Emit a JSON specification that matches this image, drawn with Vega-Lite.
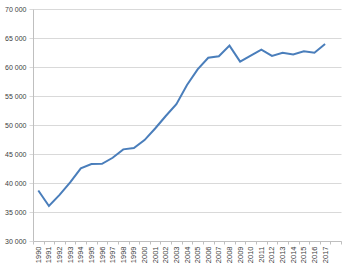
{
  "$schema": "https://vega.github.io/schema/vega-lite/v6.json",
  "autosize": {"type": "none"},
  "width": 308,
  "height": 232,
  "padding": {"left": 33, "top": 9, "right": 9, "bottom": 26},
  "background": "white",
  "config": {
    "view": {"stroke": null},
    "axis": {"labelFont": "Liberation Sans", "labelColor": "#404040", "domainColor": "#bfbfbf", "tickColor": "#bfbfbf", "gridColor": "#d9d9d9"}
  },
  "data": {
    "values": [
      {"year": 1990, "value": 38700},
      {"year": 1991, "value": 36030},
      {"year": 1992, "value": 37950},
      {"year": 1993, "value": 40100},
      {"year": 1994, "value": 42530},
      {"year": 1995, "value": 43280},
      {"year": 1996, "value": 43300},
      {"year": 1997, "value": 44350},
      {"year": 1998, "value": 45800},
      {"year": 1999, "value": 46030},
      {"year": 2000, "value": 47400},
      {"year": 2001, "value": 49400},
      {"year": 2002, "value": 51550},
      {"year": 2003, "value": 53600},
      {"year": 2004, "value": 56900},
      {"year": 2005, "value": 59600},
      {"year": 2006, "value": 61600},
      {"year": 2007, "value": 61840},
      {"year": 2008, "value": 63680},
      {"year": 2009, "value": 60920},
      {"year": 2010, "value": 61950},
      {"year": 2011, "value": 62990},
      {"year": 2012, "value": 61900},
      {"year": 2013, "value": 62450},
      {"year": 2014, "value": 62150},
      {"year": 2015, "value": 62700},
      {"year": 2016, "value": 62450},
      {"year": 2017, "value": 63970}
    ]
  },
  "mark": {"type": "line", "color": "#4a7ebb", "strokeWidth": 2},
  "encoding": {
    "x": {
      "field": "year",
      "type": "ordinal",
      "bandPosition": 0.5,
      "scale": {"type": "band", "paddingInner": 0, "paddingOuter": 0,
        "domain": [1990,1991,1992,1993,1994,1995,1996,1997,1998,1999,2000,2001,2002,2003,2004,2005,2006,2007,2008,2009,2010,2011,2012,2013,2014,2015,2016,2017,2018]},
      "axis": {
        "title": null,
        "labelAngle": -90,
        "labelFontSize": 7.5,
        "tickBand": "extent",
        "tickSize": 3,
        "labelPadding": 2,
        "labelExpr": "datum.value == 2018 ? '' : datum.label",
        "grid": false
      }
    },
    "y": {
      "field": "value",
      "type": "quantitative",
      "scale": {"domain": [30000, 70000], "nice": false, "zero": false},
      "axis": {
        "title": null,
        "values": [30000, 35000, 40000, 45000, 50000, 55000, 60000, 65000, 70000],
        "labelExpr": "replace(format(datum.value, ','), ',', ' ')",
        "labelFontSize": 7,
        "tickSize": 4,
        "labelPadding": 3,
        "grid": true,
        "tickColor": "#d9d9d9"
      }
    }
  }
}
